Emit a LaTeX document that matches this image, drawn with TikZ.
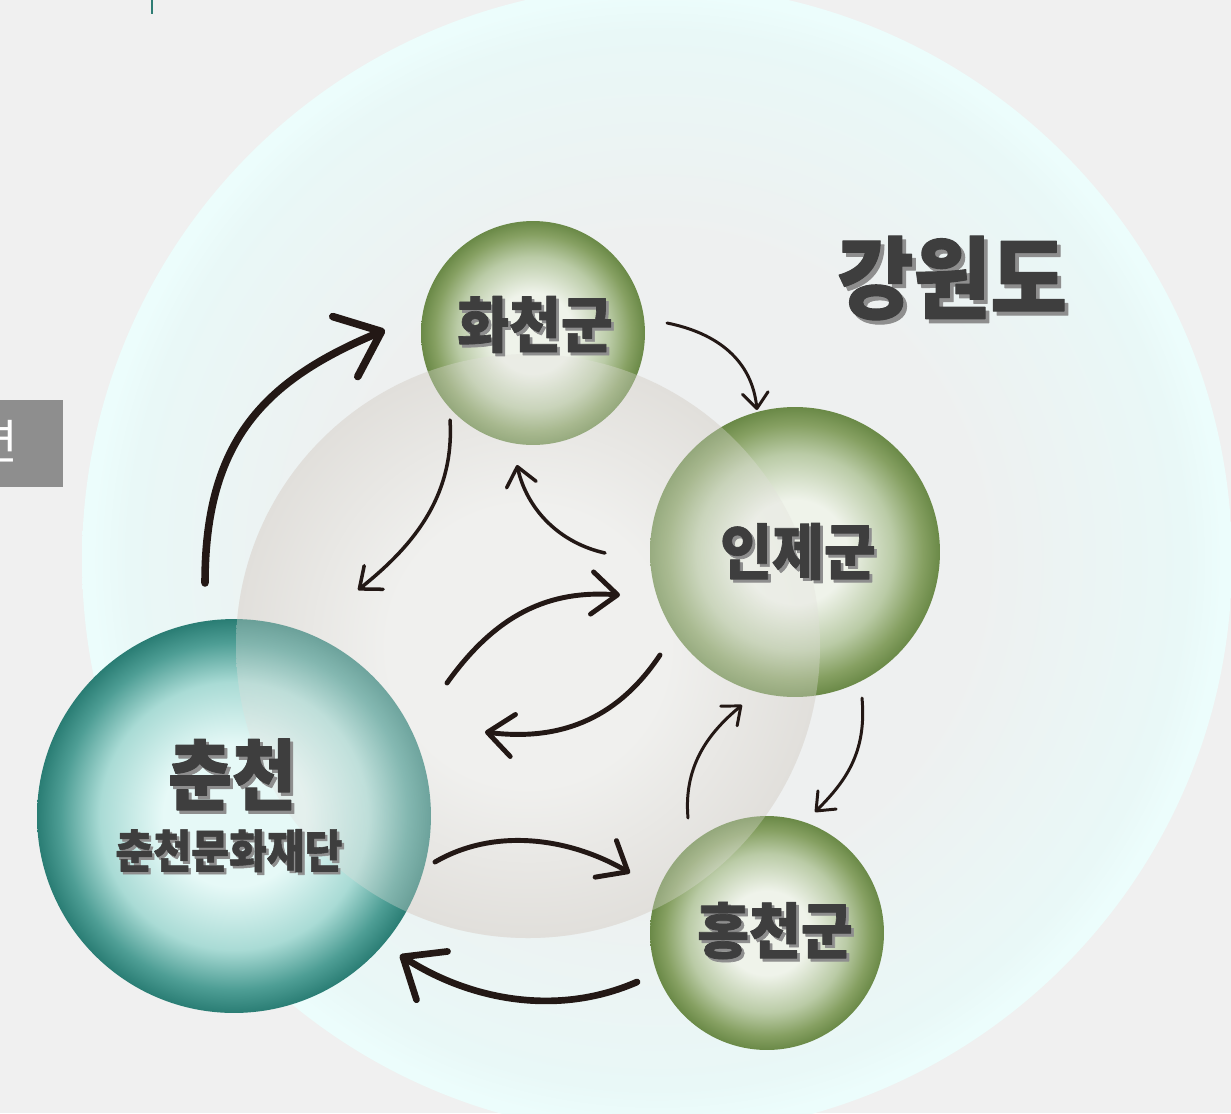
\documentclass[tikz,border=0pt]{standalone}
\usepackage{fontspec}
\newfontfamily\kr{Noto Sans CJK KR}[BoldFeatures={FakeBold=1.2}]
\usepackage{tikz}
\usetikzlibrary{arrows.meta}
\usetikzlibrary{positioning}

\definecolor{pagebg}{HTML}{F0F0F0}
\definecolor{txt}{HTML}{3E3E3E}
\definecolor{txtshd}{HTML}{8E8E8E}
\definecolor{arrowc}{HTML}{231815}
\definecolor{tealline}{HTML}{2F7D74}
\definecolor{tabgrey}{HTML}{8E8E8E}
% outer region
\definecolor{bgA}{HTML}{EEF0F0}
\definecolor{bgB}{HTML}{E9F8F7}
\definecolor{bgC}{HTML}{ECFDFC}
% inner grey disc
\definecolor{grA}{HTML}{F0F0EE}
\definecolor{grB}{HTML}{E1DFDB}
% green balls
\definecolor{gA}{HTML}{EFF3EA}
\definecolor{gB}{HTML}{BACBA6}
\definecolor{gC}{HTML}{86A062}
\definecolor{gD}{HTML}{6A8947}
% teal ball
\definecolor{tA}{HTML}{E6F9F7}
\definecolor{tB}{HTML}{A9DBD5}
\definecolor{tC}{HTML}{4E9E95}
\definecolor{tD}{HTML}{2A7D74}

\pgfdeclareradialshading{bigsh}{\pgfpoint{0bp}{0bp}}{color(0bp)=(bgA); color(14bp)=(bgA); color(23bp)=(bgB); color(24.6bp)=(bgC); color(25bp)=(bgC); color(50bp)=(bgC)}
\pgfdeclareradialshading{greysh}{\pgfpoint{0bp}{0bp}}{color(0bp)=(grA); color(12bp)=(grA); color(25bp)=(grB); color(50bp)=(grB)}
\pgfdeclareradialshading{greenball}{\pgfpoint{0bp}{0bp}}{color(0bp)=(gA); color(9bp)=(gA); color(17bp)=(gB); color(22bp)=(gC); color(25bp)=(gD); color(50bp)=(gD)}
\pgfdeclareradialshading{tealball}{\pgfpoint{0bp}{0bp}}{color(0bp)=(tA); color(9bp)=(tA); color(17bp)=(tB); color(22bp)=(tC); color(25bp)=(tD); color(50bp)=(tD)}

% text with a drop shadow
\newcommand{\shd}[2]{\makebox[0pt][l]{\hspace{#1}\raisebox{-#1}{\color{txtshd}#2}}#2}

\begin{document}
\begin{tikzpicture}[x=0.02cm,y=-0.02cm,line cap=round,line join=round,
  >={Straight Barb[length=0pt 5.2,width=0pt 8.6,round]},
  ball/.style={circle,inner sep=0pt,draw=none},
  lbl/.style={text=txt,font=\kr\bfseries,inner sep=0pt},
  arr/.style={->,draw=arrowc}]
\useasboundingbox (0,0) rectangle (1231,1113);
\fill[pagebg] (0,0) rectangle (1231,1113);
\draw[tealline,line width=0.8pt,line cap=butt] (152,0) -- (152,14);
\fill[tabgrey] (0,400) rectangle (63,487);
\node[anchor=east,text=white,font=\kr,inner sep=0pt] (tab) at (18,441) {\fontsize{27}{27}\selectfont 련};
% regions
\shade[shading=bigsh] (657,560) circle (575);
\shade[shading=greysh] (528,646) circle (292);
% balls
\node[ball,shading=greenball,minimum size=4.48cm] (hwacheon) at (533,333) {};
\node[ball,shading=greenball,minimum size=5.8cm] (inje) at (795,552) {};
\node[ball,shading=greenball,minimum size=4.68cm] (hongcheon) at (767,933) {};
\node[ball,shading=tealball,minimum size=7.88cm] (chuncheon) at (234,816) {};
\shade[shading=greysh,fill opacity=0.35] (528,646) circle (292);
% labels
\node[lbl] (gangwon) at (952,280) {\scalebox{0.93}[1]{\fontsize{51}{51}\selectfont\shd{2.3pt}{강원도}}};
\node[lbl] (hwaT) at (535,326) {\scalebox{0.93}[1]{\fontsize{34.5}{34.5}\selectfont\shd{1.7pt}{화천군}}};
\node[lbl] (injeT) at (798,553) {\scalebox{0.93}[1]{\fontsize{34.5}{34.5}\selectfont\shd{1.7pt}{인제군}}};
\node[lbl] (hongT) at (775,932) {\scalebox{0.93}[1]{\fontsize{34.5}{34.5}\selectfont\shd{1.7pt}{홍천군}}};
\node[lbl] (chunT) at (232,776) {\scalebox{0.9}[1]{\fontsize{44}{44}\selectfont\shd{1.9pt}{춘천}}};
\node[lbl] (chunF) at (229,852) {\scalebox{0.9}[1]{\fontsize{26}{26}\selectfont\shd{1.5pt}{춘천문화재단}}};
% arrow ends
\coordinate (a1s) at (205,583); \coordinate (a1e) at (385,330);
\coordinate (a2s) at (450,420); \coordinate (a2e) at (358,590);
\coordinate (a3s) at (605,553); \coordinate (a3e) at (517,465);
\coordinate (a4s) at (667,323); \coordinate (a4e) at (757,410);
\coordinate (a5s) at (447,683); \coordinate (a5e) at (620,595);
\coordinate (a6s) at (660,655); \coordinate (a6e) at (485,732);
\coordinate (a7s) at (862,698); \coordinate (a7e) at (815,812);
\coordinate (a8s) at (688,818); \coordinate (a8e) at (742,705);
\coordinate (a9s) at (435,862); \coordinate (a9e) at (630,873);
\coordinate (a10s) at (637,982); \coordinate (a10e) at (400,955);
% arrows
\draw[arr,line width=4.3pt] (a1s) .. controls +(0,-143) and +(-120,50) .. (a1e);
\draw[arr,line width=2pt] (a2s) .. controls +(5,80) and +(50,-40) .. (a2e);
\draw[arr,line width=2pt] (a3s) .. controls +(-45,-10) and +(10,45) .. (a3e);
\draw[arr,line width=1.7pt] (a4s) .. controls +(50,10) and +(-5,-50) .. (a4e);
\draw[arr,line width=2.8pt] (a5s) .. controls +(50,-70) and +(-70,-5) .. (a5e);
\draw[arr,line width=2.8pt] (a6s) .. controls +(-40,60) and +(80,10) .. (a6e);
\draw[arr,line width=1.7pt] (a7s) .. controls +(5,55) and +(30,-30) .. (a7e);
\draw[arr,line width=1.7pt] (a8s) .. controls +(-5,-55) and +(-30,25) .. (a8e);
\draw[arr,line width=2.8pt] (a9s) .. controls +(60,-35) and +(-60,-35) .. (a9e);
\draw[arr,line width=3.8pt] (a10s) .. controls +(-80,35) and +(70,45) .. (a10e);
\end{tikzpicture}
\end{document}
